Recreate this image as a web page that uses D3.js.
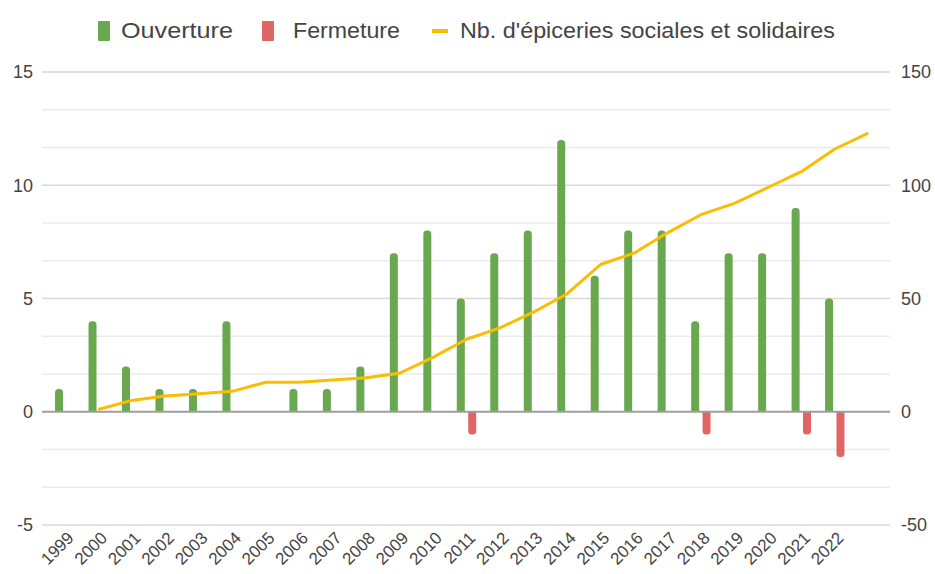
<!DOCTYPE html>
<html><head><meta charset="utf-8">
<script src="https://cdn.jsdelivr.net/npm/d3@7"></script>
<style>body{margin:0;background:#fff}svg{display:block;font-family:"Liberation Sans",Arial,sans-serif}</style>
</head><body><svg id="c" width="935" height="574"></svg>
<script>
const categories = [1999,2000,2001,2002,2003,2004,2005,2006,2007,2008,2009,2010,2011,2012,2013,2014,2015,2016,2017,2018,2019,2020,2021,2022,2023];
const tickLabels = ["1999","2000","2001","2002","2003","2004","2005","2006","2007","2008","2009","2010","2011","2012","2013","2014","2015","2016","2017","2018","2019","2020","2021","2022"];
const ouverture = [1,4,2,1,1,4,0,1,1,2,7,8,5,7,8,12,6,8,8,4,7,7,9,5,null];
const fermeture = [0,0,0,0,0,0,0,0,0,0,0,0,-1,0,0,0,0,0,0,-1,0,0,-1,-2,null];
const lineYears = [2000,2001,2002,2003,2004,2005,2006,2007,2008,2009,2010,2011,2012,2013,2014,2015,2016,2017,2018,2019,2020,2021,2022,2023];
const nbEpiceries = [1,5,7,8,9,13,13,14,15,17,24,32,37,44,52,65,70,79,87,92,99,106,116,123];
const leftTicks = [-5,0,5,10,15];
const rightTicks = [-50,0,50,100,150];
const legendLabels = ["Ouverture","Fermeture","Nb. d'épiceries sociales et solidaires"];
const colors = {green:"#6aa84f", red:"#e06666", yellow:"#fbbc04"};

const svg = d3.select("#c");
const gx0 = 42, gx1 = 890;
const x = d3.scaleBand().domain(categories).range([48, 885]).padding(0);
const yL = d3.scaleLinear().domain([-5,15]).range([525,72]);
const yR = d3.scaleLinear().domain([-50,150]).range([525,72]);

// minor gridlines
const minor = d3.range(-5, 15.001, 5/3).filter(v => Math.abs(v/5 - Math.round(v/5)) > 0.01);
svg.append("g").selectAll("line").data(minor).join("line")
  .attr("x1", gx0).attr("x2", gx1).attr("y1", d=>yL(d)).attr("y2", d=>yL(d))
  .attr("stroke", "#ebebeb").attr("stroke-width", 1.5);
svg.append("g").selectAll("line").data(leftTicks.filter(d=>d!==0)).join("line")
  .attr("x1", gx0).attr("x2", gx1).attr("y1", d=>yL(d)).attr("y2", d=>yL(d))
  .attr("stroke", "#d9d9d9").attr("stroke-width", 1.5);

// bars
const bw = 8, off = 5.7, r = 3.5;
function barPath(cx, v) {
  const x0 = cx - bw/2, x1 = cx + bw/2, y0 = yL(0), y1 = yL(v);
  if (v > 0) return `M${x0},${y0}V${y1+r}A${r},${r} 0 0 1 ${x0+r},${y1}H${x1-r}A${r},${r} 0 0 1 ${x1},${y1+r}V${y0}Z`;
  return `M${x0},${y0}V${y1-r}A${r},${r} 0 0 0 ${x0+r},${y1}H${x1-r}A${r},${r} 0 0 0 ${x1},${y1-r}V${y0}Z`;
}
const cx = c => x(c) + x.bandwidth()/2;
svg.append("g").selectAll("path").data(categories.map((c,i)=>({c,v:ouverture[i]})).filter(d=>d.v))
  .join("path").attr("d", d=>barPath(cx(d.c)-off, d.v)).attr("fill", colors.green);
svg.append("g").selectAll("path").data(categories.map((c,i)=>({c,v:fermeture[i]})).filter(d=>d.v))
  .join("path").attr("d", d=>barPath(cx(d.c)+off, d.v)).attr("fill", colors.red);

// baseline
svg.append("line").attr("x1", gx0).attr("x2", gx1).attr("y1", yL(0)).attr("y2", yL(0))
  .attr("stroke", "#9e9e9e").attr("stroke-width", 2);

// line
const line = d3.line().x((d,i)=>cx(lineYears[i])).y(d=>yR(d));
svg.append("path").datum(nbEpiceries).attr("d", line).attr("fill","none")
  .attr("stroke", colors.yellow).attr("stroke-width", 3).attr("stroke-linejoin","round");

// axes
const fmt = d => String(d);
const axL = d3.axisLeft(yL).tickValues(leftTicks).tickFormat(fmt).tickSize(0).tickPadding(0);
const gL = svg.append("g").attr("transform", "translate(33,0)").call(axL);
gL.select(".domain").remove();
gL.selectAll("text").attr("font-size", 18).attr("fill", "#444").attr("font-family", null);
const axR = d3.axisRight(yR).tickValues(rightTicks).tickFormat(fmt).tickSize(0).tickPadding(0);
const gR = svg.append("g").attr("transform", "translate(901,0)").call(axR);
gR.select(".domain").remove();
gR.selectAll("text").attr("font-size", 18).attr("fill", "#444").attr("font-family", null);

// x labels
svg.append("g").selectAll("text").data(tickLabels).join("text")
  .attr("transform", d => `translate(${cx(+d)+10},${539}) rotate(-45)`)
  .attr("text-anchor", "end").attr("font-size", 17).attr("fill", "#444").text(d=>d);

// legend
const lg = svg.append("g");
lg.append("rect").attr("x",98).attr("y",21).attr("width",12).attr("height",20).attr("rx",1).attr("fill",colors.green);
lg.append("text").attr("x",121).attr("y",38).attr("font-size",22).attr("fill","#444")
  .attr("textLength",112).attr("lengthAdjust","spacingAndGlyphs").text(legendLabels[0]);
lg.append("rect").attr("x",262).attr("y",21).attr("width",12).attr("height",20).attr("rx",1).attr("fill",colors.red);
lg.append("text").attr("x",293).attr("y",38).attr("font-size",22).attr("fill","#444")
  .attr("textLength",107).attr("lengthAdjust","spacingAndGlyphs").text(legendLabels[1]);
lg.append("line").attr("x1",432).attr("x2",448).attr("y1",31).attr("y2",31).attr("stroke",colors.yellow).attr("stroke-width",4);
lg.append("text").attr("x",460).attr("y",38).attr("font-size",22).attr("fill","#444")
  .attr("textLength",375).attr("lengthAdjust","spacingAndGlyphs").text(legendLabels[2]);
</script></body></html>
